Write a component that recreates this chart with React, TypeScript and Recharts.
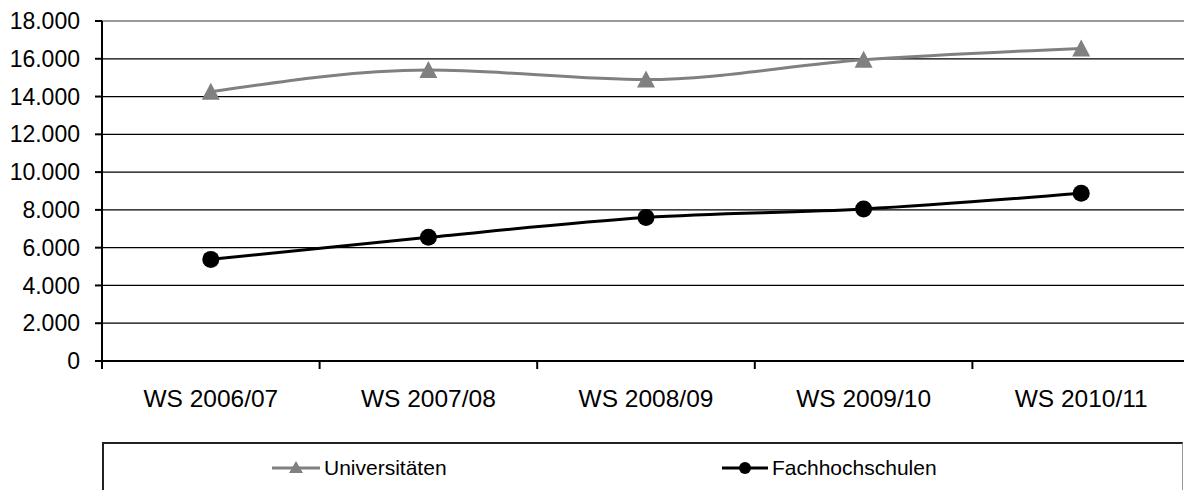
import { LineChart, Line, XAxis, YAxis, CartesianGrid, ReferenceLine, Legend } from "recharts"

const semesters = ["WS 2006/07", "WS 2007/08", "WS 2008/09", "WS 2009/10", "WS 2010/11"]
const universitaeten = [14250, 15400, 14900, 15950, 16550]
const fachhochschulen = [5380, 6550, 7600, 8050, 8880]
const yTicks = [0, 2000, 4000, 6000, 8000, 10000, 12000, 14000, 16000, 18000]

const data = semesters.map((name, i) => ({
  name,
  uni: universitaeten[i],
  fh: fachhochschulen[i],
}))

const GRAY = "#808080"
const FONT = "'Liberation Sans', Arial, sans-serif"
const LABEL_GAP = 29

// 18000 -> "18.000"
const formatDe = (v: number) => String(v).replace(/\B(?=(\d{3})+(?!\d))/g, ".")

const TriangleDot = (props: any) => {
  const { cx, cy } = props
  if (cx == null || cy == null) return null
  return <polygon points={`${cx},${cy - 9} ${cx + 9},${cy + 8} ${cx - 9},${cy + 8}`} fill={GRAY} />
}

const CircleDot = (props: any) => {
  const { cx, cy } = props
  if (cx == null || cy == null) return null
  return <circle cx={cx} cy={cy} r={8.5} fill="#000" />
}

// label in the middle of the category, tick mark on the category boundary (Excel style)
const CategoryTick = (props: any) => {
  const { x, y, payload, index, visibleTicksCount, width } = props
  const band = width / visibleTicksCount
  const axisY = y - LABEL_GAP
  return (
    <g>
      <line x1={x - band / 2} x2={x - band / 2} y1={axisY} y2={axisY + 8} stroke="#000" strokeWidth={2} />
      {index === visibleTicksCount - 1 && (
        <line x1={x + band / 2} x2={x + band / 2} y1={axisY} y2={axisY + 8} stroke="#000" strokeWidth={2} />
      )}
      <text x={x} y={y} dy="0.71em" textAnchor="middle" fill="#000" fontSize={24.5} fontFamily={FONT}>
        {payload.value}
      </text>
    </g>
  )
}

const LegendBox = () => (
  <div
    style={{
      position: "relative",
      width: 1081,
      height: 80,
      borderTop: "2px solid #222",
      borderLeft: "2px solid #222",
      borderRight: "1px solid #999",
      boxSizing: "border-box",
      fontFamily: FONT,
      fontSize: 21,
      color: "#000",
    }}
  >
    <div style={{ position: "absolute", left: 168, top: 12, display: "flex", alignItems: "center" }}>
      <svg width={48} height={20}>
        <line x1={0} y1={10} x2={48} y2={10} stroke={GRAY} strokeWidth={3} />
        <polygon points="24,3 31,15 17,15" fill={GRAY} />
      </svg>
      <span style={{ marginLeft: 4 }}>Universitäten</span>
    </div>
    <div style={{ position: "absolute", left: 618, top: 12, display: "flex", alignItems: "center" }}>
      <svg width={46} height={20}>
        <line x1={0} y1={10} x2={46} y2={10} stroke="#000" strokeWidth={3} />
        <circle cx={23} cy={10} r={6} fill="#000" />
      </svg>
      <span style={{ marginLeft: 4 }}>Fachhochschulen</span>
    </div>
  </div>
)

export default function App() {
  return (
    <div
      style={{
        position: "fixed",
        top: 0,
        left: 0,
        width: 1184,
        height: 490,
        overflow: "hidden",
        background: "#fff",
        fontFamily: FONT,
      }}
    >
      <LineChart width={1190} height={490} data={data} margin={{ top: 21, right: 0, left: 0, bottom: 0 }}>
        <CartesianGrid vertical={false} stroke="#000" strokeWidth={1.3} />
        <XAxis
          dataKey="name"
          scale="band"
          height={129}
          axisLine={{ stroke: "#000", strokeWidth: 2 }}
          tickLine={false}
          tickSize={0}
          tickMargin={LABEL_GAP}
          interval={0}
          tick={<CategoryTick />}
        />
        <YAxis
          width={102}
          domain={[0, 18000]}
          ticks={yTicks}
          tickFormatter={formatDe}
          interval={0}
          tickSize={7}
          tickMargin={15}
          tickLine={{ stroke: "#000", strokeWidth: 2 }}
          axisLine={{ stroke: "#000", strokeWidth: 2 }}
          tick={{ fill: "#000", fontSize: 23, fontFamily: FONT }}
        />
        <ReferenceLine y={18000} stroke="#999" strokeWidth={2} />
        <Line
          type="monotone"
          dataKey="uni"
          name="Universitäten"
          stroke={GRAY}
          strokeWidth={3}
          dot={<TriangleDot />}
          activeDot={false}
          isAnimationActive={false}
        />
        <Line
          type="monotone"
          dataKey="fh"
          name="Fachhochschulen"
          stroke="#000"
          strokeWidth={3}
          dot={<CircleDot />}
          activeDot={false}
          isAnimationActive={false}
        />
        <Legend
          verticalAlign="middle"
          align="center"
          content={<LegendBox />}
          wrapperStyle={{ top: 442, left: 102, width: 1081 }}
        />
      </LineChart>
    </div>
  )
}
